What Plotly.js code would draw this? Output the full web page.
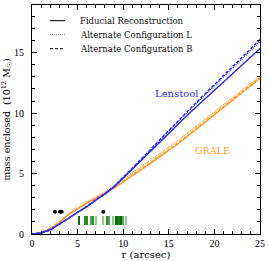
<!DOCTYPE html>
<html><head><meta charset="utf-8">
<script src="https://cdn.plot.ly/plotly-3.0.1.min.js"></script>
<style>html,body{margin:0;padding:0;background:#fff}#c{width:269px;height:261px}</style>
</head><body><div id="c"></div>
<script>
const r = [0,1,2,3,4,5,6,7,8,9,10,11,12,13,14,15,16,17,18,19,20,21,22,23,24,25];
const lenstoolFid = [0,0.08,0.35,0.8,1.3,1.8,2.25,2.8,3.3,3.9,4.6,5.35,6.1,6.85,7.6,8.35,9.1,9.8,10.5,11.2,11.9,12.6,13.3,13.95,14.65,15.35];
const lenstoolL   = [0,0.08,0.35,0.8,1.3,1.8,2.27,2.82,3.33,3.94,4.66,5.43,6.2,6.98,7.76,8.54,9.33,10.06,10.8,11.53,12.27,13.0,13.74,14.45,15.2,15.95];
const lenstoolB   = [0,0.08,0.35,0.8,1.3,1.8,2.27,2.83,3.34,3.95,4.68,5.45,6.23,7.02,7.8,8.59,9.38,10.12,10.87,11.61,12.36,13.1,13.85,14.57,15.33,16.1];
const graleFid = [0,0.1,0.45,0.95,1.6,2.1,2.55,2.95,3.35,3.8,4.3,4.8,5.35,5.85,6.4,6.9,7.45,8.05,8.65,9.25,9.8,10.4,11.0,11.6,12.2,12.87];
const graleL   = [0,0.1,0.47,1.0,1.66,2.18,2.63,3.05,3.5,3.98,4.5,5.05,5.62,6.15,6.7,7.2,7.74,8.33,8.92,9.5,10.05,10.63,11.22,11.8,12.4,13.05];
const graleB   = [0,0.1,0.46,0.97,1.62,2.13,2.58,2.99,3.4,3.86,4.36,4.87,5.42,5.93,6.48,6.98,7.53,8.13,8.73,9.33,9.88,10.48,11.08,11.68,12.28,12.95];
const dotR = [2.52,3.07,3.25,7.82];
const dotM = [1.85,1.85,1.85,1.85];
const barR = [5.19,5.85,6.07,6.51,6.73,7.02,7.75,8.26,8.48,8.85,9.21,9.35,9.57,9.72,10.01,10.31];
const barShade = ['#0a6e0a','#2f8a2f','#2f8a2f','#55a455','#2f8a2f','#8fcb8f','#8fcb8f','#2f8a2f','#55a455','#8fcb8f','#0a6e0a','#0a6e0a','#1f7f1f','#0a6e0a','#55a455','#8fcb8f'];
const barBase = 0.75, barTop = 1.5;
const legendLabels = ['Fiducial Reconstruction','Alternate Configuration L','Alternate Configuration B'];

const BLUE = '#2a2aff', ORANGE = '#ff9b26';
const DOT = '1px,1px', DASH = '3px,2px';
const traces = [
  {x:r,y:graleL,mode:'lines',line:{color:ORANGE,width:1.4,dash:DOT},showlegend:false},
  {x:r,y:graleB,mode:'lines',line:{color:ORANGE,width:1.4,dash:DASH},showlegend:false},
  {x:r,y:graleFid,mode:'lines',line:{color:ORANGE,width:1.4},showlegend:false},
  {x:r,y:lenstoolL,mode:'lines',line:{color:BLUE,width:1.4,dash:DOT},showlegend:false},
  {x:r,y:lenstoolB,mode:'lines',line:{color:BLUE,width:1.4,dash:DASH},showlegend:false},
  {x:r,y:lenstoolFid,mode:'lines',line:{color:BLUE,width:1.4},showlegend:false},
  {type:'bar',x:barR,y:barR.map(()=>barTop-barBase),base:barBase,width:0.22,marker:{color:barShade,line:{width:0}},showlegend:false},
  {x:dotR,y:dotM,mode:'markers',marker:{color:'#000',size:4},showlegend:false}
];
const FONT = 'DejaVu Serif, serif';
const TICKFONT = 'Liberation Serif, serif';
const shapes = [], annotations = [];
const dashes = ['solid',DOT,DASH];
legendLabels.forEach((t,i)=>{
  const yp = 20.7 + i*14;
  shapes.push({type:'line',xref:'paper',yref:'paper',x0:(50-32)/228,x1:(65-32)/228,y0:(234-yp)/229,y1:(234-yp)/229,line:{color:i===1?'#888':'#000',width:1,dash:dashes[i]}});
  annotations.push({xref:'paper',yref:'paper',x:(78-32)/228,y:(234-yp)/229,xanchor:'left',yanchor:'middle',text:t,showarrow:false,font:{family:FONT,size:8.5,color:'#111'}});
});
annotations.push({x:15.8,y:11.65,text:'Lenstool',showarrow:false,font:{family:FONT,size:10,color:BLUE}});
annotations.push({x:19.75,y:6.9,text:'GRALE',showarrow:false,font:{family:FONT,size:9.5,color:ORANGE}});

const axBase = {showgrid:false,zeroline:false,showline:true,linecolor:'#000',linewidth:1,mirror:'allticks',ticks:'inside',ticklen:5,tickcolor:'#000',tickwidth:1,tickfont:{family:TICKFONT,size:10,color:'#000'},dtick:5,
  minor:{ticks:'inside',ticklen:3,dtick:1,tickcolor:'#000',showgrid:false}};
const layout = {
  width:269,height:261,margin:{l:32,r:9,t:5,b:27},paper_bgcolor:'#fff',plot_bgcolor:'#fff',
  bargap:0,
  xaxis:Object.assign({},axBase,{range:[0,25],tick0:0,title:{text:'r (arcsec)',font:{family:FONT,size:10,color:'#000'},standoff:1},ticklabelstandoff:0}),
  yaxis:Object.assign({},axBase,{range:[0,18.95],tick0:0,title:{text:'mass enclosed  (10<sup>12</sup> M<sub>☉</sub>)',font:{family:FONT,size:9.5,color:'#000'},standoff:3},ticklabelstandoff:5}),
  shapes:shapes,annotations:annotations,showlegend:false
};
Plotly.newPlot('c',traces,layout,{staticPlot:true,displayModeBar:false});
</script></body></html>
